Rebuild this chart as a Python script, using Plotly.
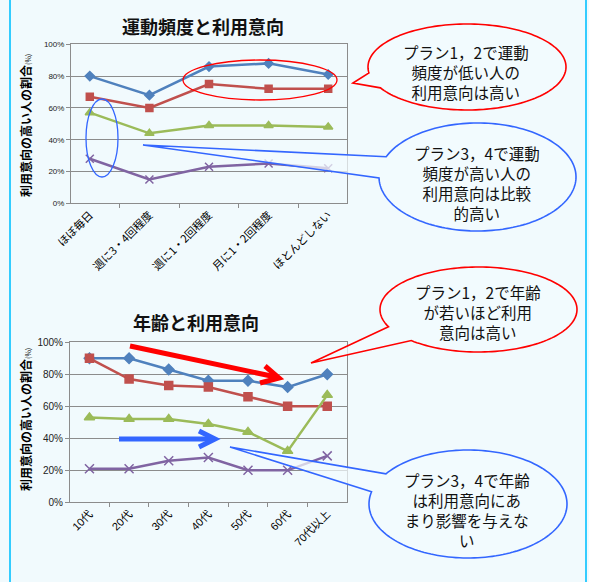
import numpy as np
import plotly.graph_objects as go

W, H = 589, 582
BG = "#F1FAFD"

# ---------------- data ----------------
freq_cats = ["ほぼ毎日", "週に3・4回程度", "週に1・2回程度", "月に1・2回程度", "ほとんどしない"]
freq_plan1 = [80, 68, 86, 88, 81]
freq_plan2 = [67, 60, 75, 72, 72]
freq_plan3 = [57, 44, 49, 49, 48]
freq_plan4 = [28, 15, 23, 25, 22]

age_cats = ["10代", "20代", "30代", "40代", "50代", "60代", "70代以上"]
age_plan1 = [90, 90, 83, 76, 76, 72, 80]
age_plan2 = [90, 77, 73, 72, 66, 60, 60]
age_plan3 = [53, 52, 52, 49, 44, 32, 67]
age_plan4 = [21, 21, 26, 28, 20, 20, 29]

y_ticks = [0, 20, 40, 60, 80, 100]
y_tick_labels = ["0%", "20%", "40%", "60%", "80%", "100%"]

series_style = [
    ("#4F81BD", "diamond", 7),
    ("#C0504D", "square", 7),
    ("#9BBB59", "triangle-up", 8),
    ("#8064A2", "x-thin-open", 8),
]

JP = "Noto Sans CJK JP"
NUM = "Liberation Sans, Noto Sans CJK JP"


def P(x, y):
    return x / W, 1 - y / H


fig = go.Figure()

for (col, sym, ms), vals in zip(series_style, [freq_plan1, freq_plan2, freq_plan3, freq_plan4]):
    fig.add_trace(go.Scatter(
        x=freq_cats, y=vals, mode="lines+markers", xaxis="x", yaxis="y",
        line=dict(color=col, width=2.5),
        marker=dict(symbol=sym, size=ms, color=col, line=dict(color=col, width=1.5)),
        showlegend=False, hoverinfo="skip"))

for (col, sym, ms), vals in zip(series_style, [age_plan1, age_plan2, age_plan3, age_plan4]):
    fig.add_trace(go.Scatter(
        x=age_cats, y=vals, mode="lines+markers", xaxis="x2", yaxis="y2",
        line=dict(color=col, width=2.5),
        marker=dict(symbol=sym, size=ms + 1, color=col, line=dict(color=col, width=1.5)),
        showlegend=False, hoverinfo="skip"))

axis_common_y = dict(
    range=[0, 100], tickmode="array", tickvals=y_ticks, ticktext=y_tick_labels, showgrid=True,
    gridcolor="#8C8C8C", gridwidth=1, showline=True, linecolor="#8C8C8C",
    linewidth=1, mirror=True, ticks="outside", ticklen=4, tickcolor="#8C8C8C",
    zeroline=False, fixedrange=True, automargin=False,
)
axis_common_x = dict(
    type="category", showgrid=False, showline=True, linecolor="#8C8C8C",
    linewidth=1, mirror=True, ticks="outside", ticklen=4, tickcolor="#8C8C8C",
    tickson="boundaries", tickangle=-45, zeroline=False, fixedrange=True, automargin=False,
)

fig.update_layout(
    template="none",
    width=W, height=H,
    margin=dict(l=0, r=0, t=0, b=0, pad=0, autoexpand=False),
    paper_bgcolor=BG, plot_bgcolor="rgba(0,0,0,0)",
    xaxis=dict(domain=[71 / W, 347 / W], anchor="y",
               tickfont=dict(family=JP, size=11, color="#000"), **axis_common_x),
    yaxis=dict(domain=[1 - 203.3 / H, 1 - 44.3 / H], anchor="x",
               tickfont=dict(family=NUM, size=8, color="#222"), **axis_common_y),
    xaxis2=dict(domain=[70 / W, 346.7 / W], anchor="y2",
                tickfont=dict(family=NUM, size=11, color="#000"), **axis_common_x),
    yaxis2=dict(domain=[1 - 502.3 / H, 1 - 342.3 / H], anchor="x2",
                tickfont=dict(family=NUM, size=10, color="#222"), **axis_common_y),
)

shapes = []
# side borders
for bx in (10, 586):
    x0, _ = P(bx, 0)
    shapes.append(dict(type="line", xref="paper", yref="paper", x0=x0, x1=x0, y0=0, y1=1,
                       line=dict(color="#33CCFF", width=2)))


def ellipse(cx, cy, rx, ry, color, width=1.3):
    x0, y0 = P(cx - rx, cy + ry)
    x1, y1 = P(cx + rx, cy - ry)
    return dict(type="circle", xref="paper", yref="paper", x0=x0, y0=y0, x1=x1, y1=y1,
                line=dict(color=color, width=width), fillcolor="rgba(0,0,0,0)", layer="above")


def bubble(cx, cy, rx, ry, t_hi, t_lo, tip, color):
    ts = np.radians(np.linspace(t_hi, t_lo + 360, 160))
    pts = [tip] + [(cx + rx * np.cos(t), cy + ry * np.sin(t)) for t in ts]
    path = "M " + " L ".join("%.5f,%.5f" % P(x, y) for x, y in pts) + " Z"
    return dict(type="path", xref="paper", yref="paper", path=path,
                line=dict(color=color, width=1.6), fillcolor="rgba(242,251,253,0.72)",
                layer="above")


def polyline(pts, color, width):
    path = "M " + " L ".join("%.5f,%.5f" % P(x, y) for x, y in pts)
    return dict(type="path", xref="paper", yref="paper", path=path,
                line=dict(color=color, width=width), layer="above")


RED = "#FF0000"
BLUE = "#3366FF"

shapes.append(ellipse(260, 80, 77, 20, RED))
shapes.append(ellipse(102, 138, 16, 39, BLUE))
shapes.append(bubble(467, 67, 99, 43, 172, 151, (353, 83), RED))
shapes.append(bubble(477.5, 177, 98.5, 54, 202, 179, (143, 145), BLUE))
shapes.append(bubble(478.5, 309.5, 98.5, 42.5, 156, 133, (311, 363), RED))
shapes.append(bubble(468, 504, 99, 54, 214, 193, (230, 447), BLUE))

# arrows
shapes.append(polyline([(130, 346), (276, 377)], RED, 5))
shapes.append(polyline([(265, 366), (279, 378), (260, 383)], RED, 5))
shapes.append(polyline([(119, 439), (213, 439)], BLUE, 5))
shapes.append(polyline([(199, 431), (215, 439), (199, 447)], BLUE, 5))

fig.update_layout(shapes=shapes)

ann = []


def text(x, y, s, size, bold=False, angle=0, family=JP):
    xx, yy = P(x, y)
    ann.append(dict(xref="paper", yref="paper", x=xx, y=yy, text=("<b>%s</b>" % s) if bold else s,
                    showarrow=False, xanchor="center", yanchor="middle", textangle=angle,
                    font=dict(family=family, size=size, color="#111")))


text(203, 26, "運動頻度と利用意向", 18, bold=True)
text(196, 322, "年齢と利用意向", 18, bold=True)
ytitle = "<b>利用意向の高い人の割合</b><span style='font-size:7px'>(%)</span>"
for yc in (126, 420):
    xx, yy = P(25, yc)
    ann.append(dict(xref="paper", yref="paper", x=xx, y=yy, text=ytitle, showarrow=False,
                    xanchor="center", yanchor="middle", textangle=-90,
                    font=dict(family=JP, size=12, color="#000")))

text(466, 72, "プラン1，2で運動<br>頻度が低い人の<br>利用意向は高い", 15.5)
text(477, 183, "プラン3，4で運動<br>頻度が高い人の<br>利用意向は比較<br>的高い", 15.5)
text(478, 312, "プラン1，2で年齢<br>が若いほど利用<br>意向は高い", 15.5)
text(467, 510, "プラン3，4で年齢<br>は利用意向にあ<br>まり影響を与えな<br>い", 15.5)

fig.update_layout(annotations=ann)

fig.write_html(
    "out.html",
    config={"displayModeBar": False, "staticPlot": True},
    post_script="document.body.style.margin='0';document.body.style.overflow='hidden';",
)
